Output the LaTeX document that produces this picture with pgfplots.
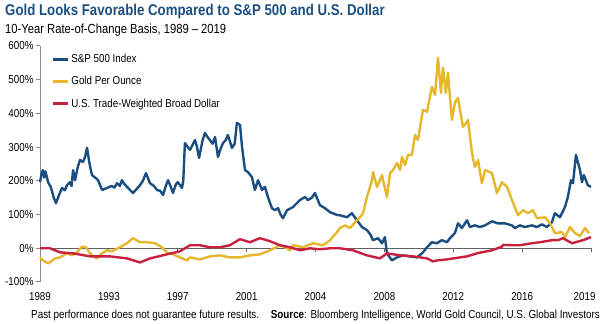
\documentclass[border=0pt]{standalone}
\usepackage{fontspec}
\setmainfont[FakeStretch=0.85]{Liberation Sans}
\usepackage{pgfplots}
\pgfplotsset{compat=1.18}
\definecolor{spblue}{HTML}{1A4D80}
\definecolor{goldc}{HTML}{E6B62D}
\definecolor{redc}{HTML}{C8213F}
\definecolor{titleblue}{HTML}{1B4F80}
\definecolor{axgray}{HTML}{8C8C8C}
\definecolor{zerogray}{HTML}{606060}
\begin{document}
\begin{tikzpicture}
\useasboundingbox (0pt,0pt) rectangle (600pt,324pt);
\node[anchor=base west, inner sep=0pt, text=titleblue, font=\fontsize{15.6}{17}\selectfont\bfseries] at (5pt,308pt) {Gold Looks Favorable Compared to S\&P 500 and U.S. Dollar};
\node[anchor=base west, inner sep=0pt, font=\fontsize{13.2}{15}\selectfont] at (5pt,290pt) {10-Year Rate-of-Change Basis, 1989 -- 2019};
\node[anchor=base east, inner sep=0pt, font=\fontsize{11.6}{13}\selectfont] at (600pt,5pt) {Past performance does not guarantee future results.\quad\textbf{Source}: Bloomberg Intelligence, World Gold Council, U.S. Global Investors};
\begin{axis}[
  at={(40pt,42pt)}, anchor=south west, scale only axis,
  width=551pt, height=236pt,
  xmin=1989, xmax=2019, ymin=-100, ymax=600,
  axis x line*=bottom, axis y line*=left,
  x axis line style={draw=none},
  y axis line style={axgray, line width=1pt},
  tick align=outside, major tick length=4pt,
  xtick={1989,1992.75,1996.5,2000.25,2004,2007.75,2011.5,2015.25},
  xticklabels={1989,1993,1997,2001,2004,2008,2012,2016},
  xtick style={zerogray, line width=0.8pt, yshift=33.714pt},
  extra x ticks={2019}, extra x tick labels={2019},
  extra x tick style={xticklabel style={anchor=north east, xshift=8pt}},
  ytick={-100,0,100,200,300,400,500,600},
  yticklabel={\pgfmathprintnumber{\tick}\%},
  ytick style={axgray, line width=1pt},
  /pgf/number format/assume math mode=true,
  ticklabel style={font=\fontsize{11.5}{13}\selectfont},
  xticklabel style={yshift=-3pt},
  yticklabel style={xshift=1pt},
  extra y ticks={0}, extra y tick labels={},
  extra y tick style={grid=major, major grid style={zerogray, line width=0.8pt}, tick style={draw=none}},
  legend style={at={(rel axis cs:0,1)}, anchor=north west, xshift=8pt, yshift=-4pt, draw=none, fill=none, row sep=8.5pt, font=\fontsize{11.5}{13}\selectfont},
  legend cell align=left,
  legend image code/.code={\draw[#1, line width=3.2pt] (0pt,0pt) -- (15pt,0pt);},
  every axis plot/.append style={line width=2.4pt, line join=round},
  clip=false,
]
\addplot[spblue] table {
1989.00 196
1989.10 225
1989.16 232
1989.23 210
1989.30 228
1989.44 196
1989.60 180
1989.75 150
1989.87 134
1990.05 160
1990.20 179
1990.35 172
1990.47 187
1990.63 196
1990.72 185
1990.80 232
1990.91 202
1991.05 240
1991.18 262
1991.34 256
1991.45 270
1991.56 298
1991.70 250
1991.83 217
1992.00 210
1992.16 202
1992.38 173
1992.65 179
1992.90 185
1993.05 180
1993.19 193
1993.35 185
1993.46 202
1993.60 190
1993.74 182
1994.06 164
1994.25 175
1994.44 187
1994.60 200
1994.77 223
1994.99 193
1995.20 185
1995.37 173
1995.55 170
1995.70 158
1995.85 185
1995.97 202
1996.10 185
1996.24 164
1996.40 190
1996.51 196
1996.73 179
1996.80 200
1996.89 312
1997.05 300
1997.17 292
1997.44 321
1997.55 300
1997.66 268
1997.85 320
1997.98 342
1998.12 330
1998.25 321
1998.40 310
1998.53 330
1998.69 271
1998.80 290
1998.96 312
1999.10 320
1999.23 336
1999.45 298
1999.60 310
1999.72 372
1999.89 366
2000.00 301
2000.16 232
2000.32 226
2000.54 211
2000.70 173
2000.87 202
2001.09 173
2001.25 182
2001.41 152
2001.63 119
2001.79 113
2001.96 119
2002.10 100
2002.23 89
2002.45 113
2002.77 122
2003.15 143
2003.43 152
2003.59 143
2003.80 150
2003.97 164
2004.24 128
2004.51 119
2004.79 107
2005.22 98
2005.33 98
2005.71 92
2005.98 104
2006.26 83
2006.53 63
2006.80 54
2007.00 40
2007.13 24
2007.40 30
2007.62 15
2007.78 33
2007.89 -15
2008.16 -36
2008.43 -27
2008.76 -21
2009.14 -24
2009.52 -27
2009.80 -15
2010.07 3
2010.34 18
2010.61 15
2010.88 24
2011.16 18
2011.32 30
2011.59 45
2011.76 74
2011.97 60
2012.25 83
2012.41 63
2012.68 68
2012.95 63
2013.23 68
2013.61 80
2013.93 74
2014.31 74
2014.69 68
2014.86 60
2015.13 68
2015.40 63
2015.78 68
2016.05 63
2016.33 71
2016.60 63
2016.87 77
2017.03 104
2017.31 92
2017.58 122
2017.74 152
2017.91 202
2018.02 193
2018.18 277
2018.40 232
2018.51 196
2018.61 217
2018.83 187
2019.00 182
};
\addlegendentry{S\&P 500 Index}
\addplot[goldc] table {
1989.00 -27
1989.16 -36
1989.44 -45
1989.82 -30
1990.09 -27
1990.47 -15
1990.74 -21
1991.01 -12
1991.29 5
1991.50 3
1991.72 -15
1991.99 -27
1992.10 -30
1992.38 -15
1992.65 -6
1992.92 -9
1993.25 0
1993.74 15
1994.06 30
1994.44 18
1994.83 18
1995.26 15
1995.64 3
1995.91 -12
1996.24 -18
1996.62 -27
1997.00 -36
1997.17 -27
1997.71 -33
1998.26 -24
1998.80 -21
1999.34 -27
1999.89 -27
2000.43 -21
2000.98 -18
2001.52 -6
2002.07 9
2002.34 3
2002.61 -6
2002.77 9
2003.32 3
2003.86 15
2004.41 9
2004.79 24
2005.17 48
2005.33 60
2005.61 68
2005.88 60
2006.15 77
2006.42 92
2006.59 104
2006.80 152
2007.08 202
2007.13 226
2007.35 182
2007.62 217
2007.89 152
2008.06 223
2008.22 232
2008.44 253
2008.60 232
2008.71 271
2008.87 247
2009.04 277
2009.25 277
2009.42 336
2009.58 321
2009.85 411
2010.07 405
2010.34 479
2010.51 455
2010.67 565
2010.83 461
2010.94 536
2011.10 461
2011.21 521
2011.43 381
2011.59 432
2011.76 446
2012.03 360
2012.25 375
2012.30 381
2012.52 283
2012.68 241
2012.85 262
2013.06 193
2013.23 232
2013.61 223
2013.88 164
2014.15 196
2014.43 182
2014.70 143
2015.02 98
2015.30 113
2015.57 104
2015.84 113
2016.06 89
2016.49 92
2016.77 74
2017.04 45
2017.42 48
2017.58 33
2017.86 63
2018.13 45
2018.40 36
2018.67 60
2018.89 45
};
\addlegendentry{Gold Per Ounce}
\addplot[redc] table {
1989.00 0
1989.54 0
1990.09 -12
1990.80 -15
1991.72 -24
1992.81 -24
1993.74 -30
1994.44 -42
1994.99 -30
1995.91 -18
1996.62 -9
1997.17 9
1997.71 9
1998.26 3
1998.80 3
1999.34 9
1999.89 27
2000.43 18
2000.98 30
2001.52 21
2002.07 9
2002.61 3
2003.16 -6
2003.70 0
2004.24 -3
2004.79 0
2005.33 0
2006.04 -6
2006.80 -21
2007.51 -30
2007.89 -15
2008.60 -21
2009.31 -24
2010.07 -30
2010.40 -39
2010.61 -36
2011.16 -33
2011.87 -27
2012.25 -24
2012.85 -14
2013.61 -6
2014.15 5
2014.21 10
2014.86 9
2015.13 9
2015.79 15
2016.22 18
2016.88 24
2017.20 24
2017.47 30
2017.97 15
2018.56 24
2019.00 33
};
\addlegendentry{U.S. Trade-Weighted Broad Dollar}
\end{axis}
\end{tikzpicture}
\end{document}
